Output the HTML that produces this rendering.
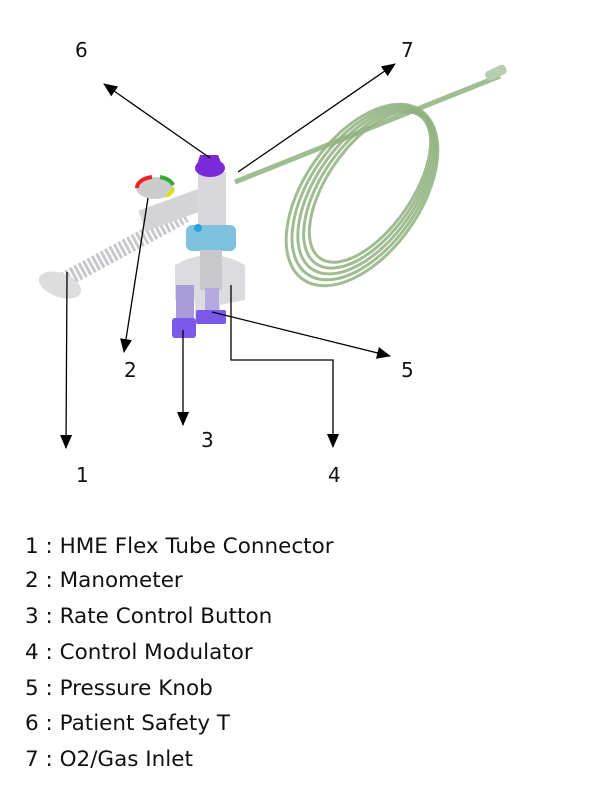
<!DOCTYPE html>
<html><head><meta charset="utf-8"><style>
body{margin:0;background:#fff;width:600px;height:800px;overflow:hidden;font-family:"Liberation Sans",sans-serif}
.lg{position:absolute;left:25px;color:#111;font-family:"DejaVu Sans","Liberation Sans",sans-serif;font-size:21.5px;line-height:24px}
.n{position:absolute;font-size:20px;color:#111;font-family:"DejaVu Sans","Liberation Sans",sans-serif}
</style></head><body>
<svg width="600" height="800" style="position:absolute;left:0;top:0">
<defs>
<marker id="b" markerWidth="14" markerHeight="14" refX="13" refY="7" orient="auto" markerUnits="userSpaceOnUse"><path d="M0,1 L14,7 L0,13 z" fill="#000"/></marker></defs>
<!-- coil -->
<g fill="none" stroke="#8fb27f" stroke-opacity="0.85">
<ellipse cx="362" cy="195" rx="103" ry="58" transform="rotate(-55 362 195)" stroke-width="3"/>
<ellipse cx="364" cy="193" rx="99" ry="54" transform="rotate(-55 364 193)" stroke-width="3"/>
<ellipse cx="366" cy="191" rx="95" ry="50" transform="rotate(-55 366 191)" stroke-width="3"/>
<ellipse cx="368" cy="189" rx="91" ry="46" transform="rotate(-55 368 189)" stroke-width="3"/>
<ellipse cx="370" cy="187" rx="87" ry="42" transform="rotate(-55 370 187)" stroke-width="3"/>
<line x1="235" y1="182" x2="500" y2="76" stroke-width="5"/>
</g>
<rect x="485" y="68" width="22" height="10" rx="4" fill="#b9cdb0" transform="rotate(-25 495 73)"/>
<!-- flex tube -->
<line x1="55" y1="285" x2="185" y2="215" stroke="#c8c8cc" stroke-width="16" stroke-dasharray="3 2"/>
<ellipse cx="60" cy="285" rx="22" ry="12" fill="#ddd" transform="rotate(20 60 285)"/>
<rect x="140" y="198" width="70" height="22" fill="#d4d4d8" transform="rotate(-20 175 209)"/>
<ellipse cx="155" cy="188" rx="19" ry="11" fill="#ccc"/>
<path d="M137,188 A19 11 0 0 1 152 177" stroke="#e22" stroke-width="4" fill="none"/>
<path d="M160,177 A19 11 0 0 1 173 185" stroke="#3a3" stroke-width="4" fill="none"/>
<path d="M173,188 A19 11 0 0 1 166 196" stroke="#dd2" stroke-width="4" fill="none"/>
<!-- body -->
<rect x="198" y="172" width="28" height="60" fill="#d8d8dc"/>
<rect x="186" y="225" width="50" height="26" rx="6" fill="#7fc1de"/>
<circle cx="198" cy="228" r="4" fill="#29a3e0"/>
<path d="M175,265 Q210,245 245,265 L245,300 L220,305 L220,320 L195,320 L195,300 L175,300 Z" fill="#dcdce0"/>
<rect x="200" y="250" width="22" height="40" fill="#c8c8cc"/>
<rect x="176" y="285" width="18" height="35" fill="#a99ad8"/>
<rect x="172" y="318" width="24" height="20" rx="3" fill="#7a5ae6"/>
<rect x="196" y="310" width="30" height="14" rx="2" fill="#7a5ae6"/>
<rect x="205" y="288" width="14" height="22" fill="#b5a8e0"/>
<path d="M197,165 L200,155 L218,155 L222,165 Z" fill="#7a2ad6"/>
<ellipse cx="210" cy="168" rx="15" ry="9" fill="#7a2ad6"/>
<!-- leaders -->
<g stroke="#000" stroke-width="1.3" fill="none">
<line x1="67" y1="272" x2="66" y2="448" marker-end="url(#b)"/>
<line x1="148" y1="198" x2="124" y2="352" marker-end="url(#b)"/>
<line x1="183" y1="330" x2="183" y2="425" marker-end="url(#b)"/>
<polyline points="231,285 231,360 333,360 333,447" marker-end="url(#b)"/>
<line x1="212" y1="312" x2="390" y2="356" marker-end="url(#b)"/>
<line x1="210" y1="158" x2="104" y2="84" marker-end="url(#b)"/>
<line x1="238" y1="172" x2="395" y2="64" marker-end="url(#b)"/>
</g>
</svg>
<div class="n" style="left:75px;top:38px">6</div>
<div class="n" style="left:401px;top:38px">7</div>
<div class="n" style="left:124px;top:358px">2</div>
<div class="n" style="left:401px;top:358px">5</div>
<div class="n" style="left:201px;top:428px">3</div>
<div class="n" style="left:76px;top:463px">1</div>
<div class="n" style="left:328px;top:463px">4</div>
<div class="lg" style="top:535px">1 : HME Flex Tube Connector</div>
<div class="lg" style="top:569px">2 : Manometer</div>
<div class="lg" style="top:605px">3 : Rate Control Button</div>
<div class="lg" style="top:641px">4 : Control Modulator</div>
<div class="lg" style="top:677px">5 : Pressure Knob</div>
<div class="lg" style="top:712px">6 : Patient Safety T</div>
<div class="lg" style="top:748px">7 : O2/Gas Inlet</div>
</body></html>
